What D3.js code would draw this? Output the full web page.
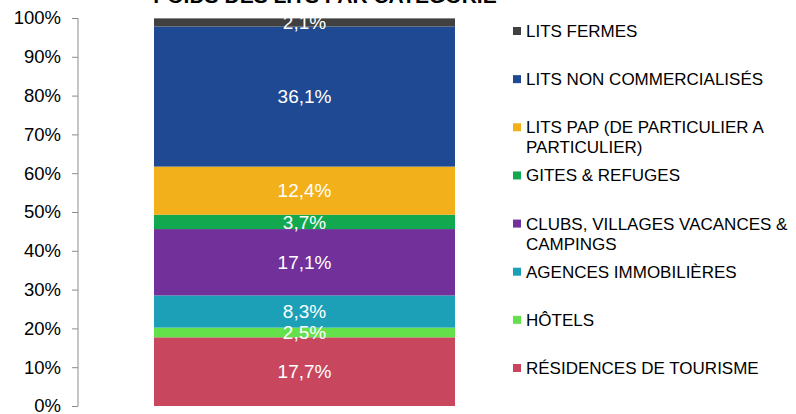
<!DOCTYPE html>
<html>
<head>
<meta charset="utf-8">
<script src="https://cdn.jsdelivr.net/npm/d3@7"></script>
<style>
  body { margin: 0; background: #fff; }
  text { font-family: "Liberation Sans", Arial, sans-serif; }
</style>
</head>
<body>
<div id="chart"></div>
<script>
// categories, bottom to top
const categories = [
  "RÉSIDENCES DE TOURISME",
  "HÔTELS",
  "AGENCES IMMOBILIÈRES",
  "CLUBS, VILLAGES VACANCES & CAMPINGS",
  "GITES & REFUGES",
  "LITS PAP (DE PARTICULIER A PARTICULIER)",
  "LITS NON COMMERCIALISÉS",
  "LITS FERMES"
];
// legend text lines (wrapped like the original)
const legendLines = [
  ["RÉSIDENCES DE TOURISME"],
  ["HÔTELS"],
  ["AGENCES IMMOBILIÈRES"],
  ["CLUBS, VILLAGES VACANCES &", "CAMPINGS"],
  ["GITES & REFUGES"],
  ["LITS PAP (DE PARTICULIER A", "PARTICULIER)"],
  ["LITS NON COMMERCIALISÉS"],
  ["LITS FERMES"]
];
const shares = [17.7, 2.5, 8.3, 17.1, 3.7, 12.4, 36.1, 2.1];
const colors = ["#C8475F", "#63E04A", "#1BA0B8", "#71309A", "#12A850", "#F2B01A", "#1F4A93", "#404040"];
const yTicks = [0, 10, 20, 30, 40, 50, 60, 70, 80, 90, 100];

const width = 796, height = 414;

const svg = d3.select("#chart").append("svg")
  .attr("width", width)
  .attr("height", height);

// title (cut off at the top, as in the source)
svg.append("text")
  .attr("x", 325)
  .attr("y", 3)
  .attr("text-anchor", "middle")
  .style("font-size", "21px")
  .style("font-weight", "bold")
  .attr("fill", "#000")
  .text("POIDS DES LITS PAR CATEGORIE");

const y = d3.scaleLinear().domain([0, 100]).range([406, 18]);

// axis
const yAxis = d3.axisLeft(y)
  .tickValues(yTicks)
  .tickSize(6)
  .tickFormat(d => d + "%");

const gAxis = svg.append("g")
  .attr("transform", "translate(78,0)")
  .call(yAxis);
gAxis.select(".domain").attr("stroke", "#8c8c8c").attr("d", "M0," + y(0) + "V" + y(100));
gAxis.selectAll(".tick line").attr("stroke", "#8c8c8c");
gAxis.selectAll(".tick text")
  .attr("x", -17)
  .attr("fill", "#000")
  .style("font-size", "18.5px")
  .style("font-family", "'Liberation Sans', Arial, sans-serif");

// stacked segments
let acc = 0;
const segs = shares.map((v, i) => {
  const s = { name: categories[i], v: v, y0: acc, y1: acc + v, color: colors[i] };
  acc += v;
  return s;
});

const bx = 154, bw = 301;

svg.selectAll(".seg")
  .data(segs)
  .enter().append("rect")
  .attr("class", "seg")
  .attr("x", bx)
  .attr("width", bw)
  .attr("y", d => y(d.y1))
  .attr("height", d => y(d.y0) - y(d.y1))
  .attr("fill", d => d.color);

svg.selectAll(".lbl")
  .data(segs)
  .enter().append("text")
  .attr("class", "lbl")
  .attr("x", bx + bw / 2)
  .attr("y", d => y((d.y0 + d.y1) / 2))
  .attr("dy", "0.35em")
  .attr("text-anchor", "middle")
  .attr("fill", "#fff")
  .style("font-size", "19px")
  .text(d => d3.format(".1f")(d.v).replace(".", ",") + "%");

// legend, top to bottom
const legendData = segs.map((d, i) => ({ color: d.color, lines: legendLines[i] })).reverse();
const ly = d3.scaleLinear().domain([0, 7]).range([31, 368]);

const leg = svg.selectAll(".leg")
  .data(legendData)
  .enter().append("g")
  .attr("class", "leg")
  .attr("transform", (d, i) => `translate(513,${ly(i)})`);

leg.append("rect")
  .attr("x", 0)
  .attr("y", -4)
  .attr("width", 8)
  .attr("height", 8)
  .attr("fill", d => d.color);

leg.each(function(d) {
  const t = d3.select(this).append("text")
    .attr("x", 13)
    .attr("y", 0)
    .attr("fill", "#000")
    .style("font-size", "17px");
  d.lines.forEach((l, k) => {
    t.append("tspan")
      .attr("x", 13)
      .attr("y", k * 20)
      .attr("dy", "0.35em")
      .text(l);
  });
});
</script>
</body>
</html>
